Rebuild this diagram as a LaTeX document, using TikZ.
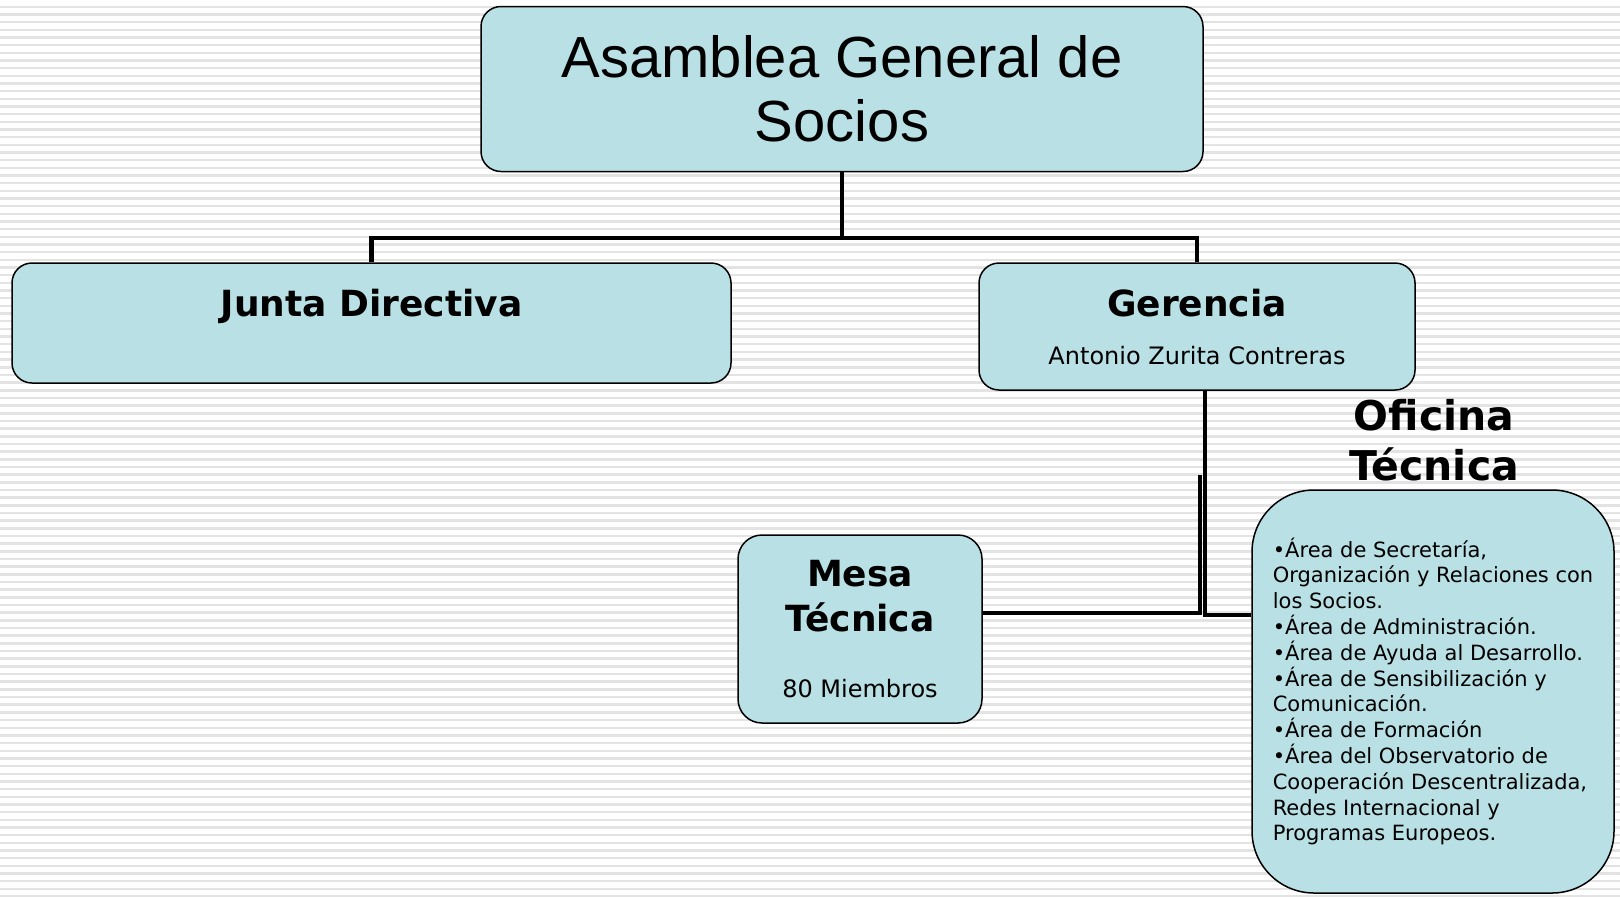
\documentclass[tikz,border=0pt]{standalone}
\usepackage{fontspec}
\setmainfont{DejaVu Sans}
\newfontfamily\titlefont{Liberation Sans}
\usetikzlibrary{positioning}
\definecolor{boxfill}{RGB}{185,224,228}
\definecolor{stripe}{RGB}{227,227,227}
\newcommand{\headfont}{\fontsize{18}{22.5}\selectfont\bfseries}
\newcommand{\namefont}{\fontsize{12}{15}\selectfont\mdseries}

\begin{document}
\begin{tikzpicture}[x=0.5pt, y=-0.5pt,
  orgbox/.style={draw, line width=0.75pt, fill=boxfill, rounded corners=10pt, align=center, inner sep=0pt},
  conn/.style={line width=2.4pt}]
	\useasboundingbox (0,0) rectangle (1620,896);
	% striped background
	\fill[white] (0,0) rectangle (1620,896);
	\foreach \i in {0,...,116}
		\fill[stripe] (0,5.5+7.67*\i) rectangle (1620,8+7.67*\i);
	% boxes
	\node[orgbox, minimum width=361pt, minimum height=82.5pt, font={\titlefont\fontsize{29}{32}\selectfont}] (asm) at (842,89) {Asamblea General de\\Socios};
	\node[orgbox, minimum width=359.5pt, minimum height=60pt, font=\headfont] (junta) at (371.5,323) {Junta Directiva\\[-2pt]\mbox{}};
	\node[orgbox, minimum width=218pt, minimum height=63.5pt, font=\namefont] (ger) at (1197,326.5) {{\headfont Gerencia}\\[9pt]Antonio Zurita Contreras};
	\node[orgbox, rounded corners=12pt, minimum width=122pt, minimum height=94pt, font=\headfont] (mesa) at (860,629) {Mesa\\Técnica\\[10.5pt]{\namefont 80 Miembros}};
	\node[font={\fontsize{20.5}{25}\selectfont\bfseries}, align=center] (ofititle) at (1434,440) {Oficina\\Técnica};
	\node[orgbox, rounded corners=31pt, minimum width=181pt, minimum height=201.5pt, align=left, font={\fontsize{10.5}{12.9}\selectfont}] (ofi) at (1433,691.5) {%
		•Área de Secretaría,\\
		Organización y Relaciones con\\
		los Socios.\\
		•Área de Administración.\\
		•Área de Ayuda al Desarrollo.\\
		•Área de Sensibilización y\\
		Comunicación.\\
		•Área de Formación\\
		•Área del Observatorio de\\
		Cooperación Descentralizada,\\
		Redes Internacional y\\
		Programas Europeos.};
	% connectors
	\coordinate (bar) at (842,238);
	\coordinate (split) at (1200,475);
	\draw[conn] (asm.south) -- (bar);
	\draw[conn] (junta.north) |- (bar) -| (ger.north);
	\draw[conn] ([xshift=4pt]ger.south) |- ([yshift=38.25pt]ofi.west);
	\draw[conn] (split) |- ([yshift=8pt]mesa.east);
\end{tikzpicture}
\end{document}
